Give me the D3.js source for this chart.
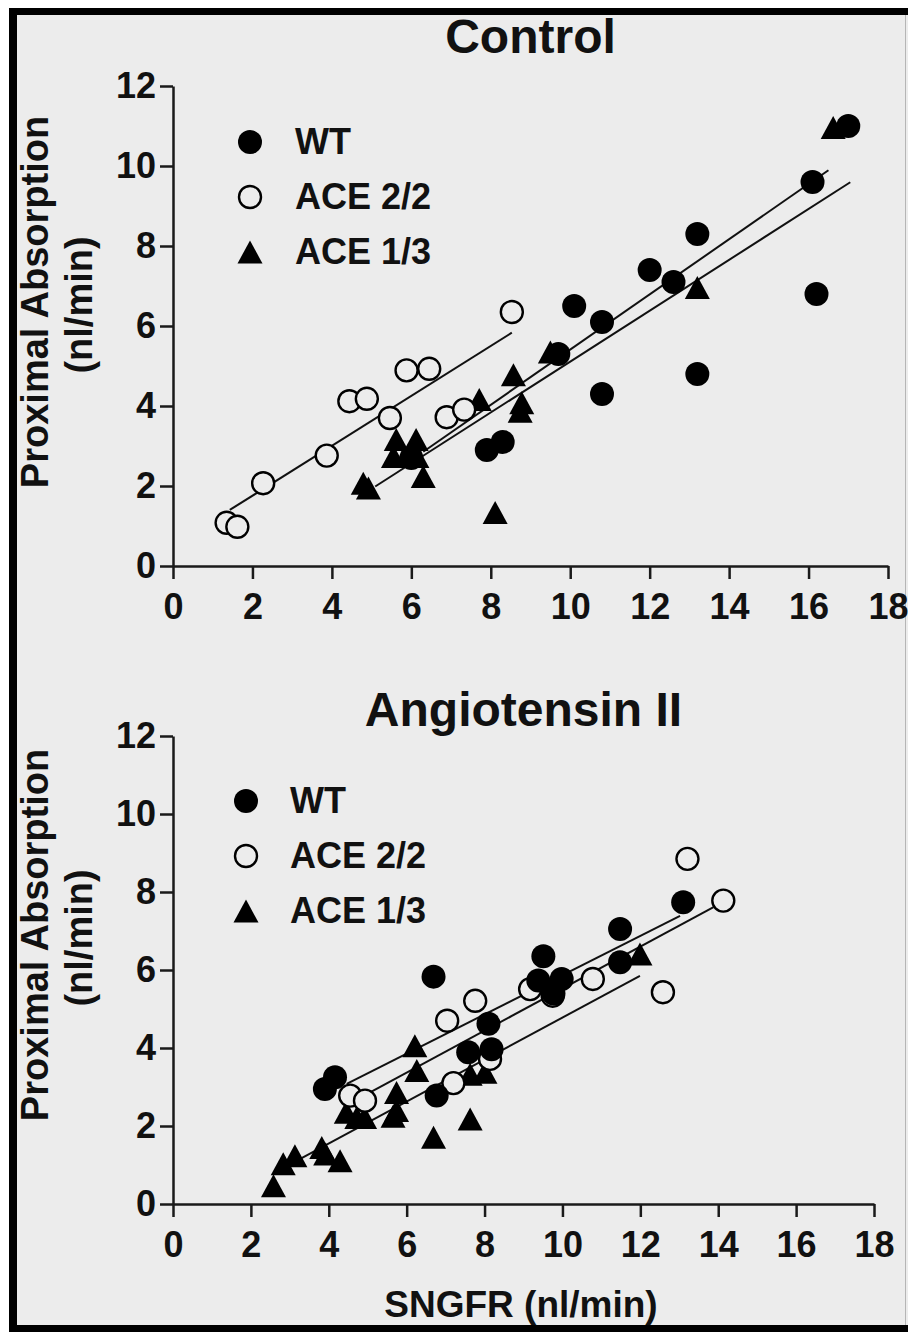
<!DOCTYPE html>
<html>
<head>
<meta charset="utf-8">
<script src="https://cdn.jsdelivr.net/npm/d3@7"></script>
<style>
  html, body { margin: 0; padding: 0; background: #fff; }
  svg text { font-family: "Liberation Sans", Arial, sans-serif; font-weight: bold; fill: #111; }
</style>
</head>
<body>
<svg id="chart" width="908" height="1332"></svg>
<script>
// ---- data ----
const seriesNames = ["WT", "ACE 2/2", "ACE 1/3"];
const xTicks = [0, 2, 4, 6, 8, 10, 12, 14, 16, 18];
const yTicks = [0, 2, 4, 6, 8, 10, 12];

// Control panel
const controlWT = [[6.0,2.7],[7.9,2.9],[8.3,3.1],[9.7,5.3],[10.1,6.5],[10.8,6.1],[10.8,4.3],[12.0,7.4],[12.6,7.1],[13.2,8.3],[13.2,4.8],[16.1,9.6],[16.2,6.8],[17.0,11.0]];
const controlAce22 = [[1.35,1.08],[1.62,0.98],[2.27,2.07],[3.87,2.76],[4.44,4.12],[4.88,4.18],[5.46,3.70],[5.88,4.89],[6.45,4.93],[6.89,3.72],[7.33,3.91],[8.53,6.35]];
const controlAce13 = [[4.79,2.07],[4.92,1.95],[5.62,3.16],[5.55,2.74],[6.12,3.16],[6.14,2.74],[6.30,2.24],[7.71,4.16],[8.57,4.78],[8.78,4.08],[8.74,3.87],[8.11,1.34],[9.50,5.35],[13.2,6.96],[16.62,10.96]];
// regression lines: [slope, intercept, xFrom, xTo]
const controlFits = [[0.624, 0.51, 1.43, 8.53], [0.69, -1.49, 6.3, 16.5], [0.636, -1.25, 5.09, 17.05]];

// Angiotensin II panel
const angWT = [[3.90,2.95],[4.16,3.25],[6.69,5.83],[6.77,2.78],[7.58,3.89],[8.10,4.62],[8.18,3.97],[9.38,5.73],[9.51,6.35],[9.77,5.40],[9.98,5.77],[11.48,7.05],[11.48,6.20],[13.10,7.74]];
const angAce22 = [[4.55,2.78],[4.93,2.65],[7.04,4.70],[7.20,3.10],[7.76,5.21],[8.14,3.72],[9.17,5.51],[9.75,5.34],[10.78,5.77],[12.58,5.43],[13.21,8.85],[14.13,7.78]];
const angAce13 = [[2.58,0.47],[2.83,1.03],[3.13,1.24],[3.82,1.45],[3.92,1.28],[4.29,1.11],[4.45,2.35],[4.72,2.22],[4.92,2.22],[5.65,2.25],[5.74,2.40],[5.74,2.86],[6.21,4.06],[6.26,3.42],[6.69,1.71],[7.63,2.18],[7.63,3.33],[8.01,3.38],[11.99,6.41]];
const angFits = [[0.503, 0.837, 4.46, 13.02], [0.539, 0.133, 5.06, 13.88], [0.538, -0.60, 3.1, 11.99]];

// ---- layout ----
const W = 908, H = 1332;
const BG = "#ececec";
const panels = [
  { title: "Control", x0: 173, x1: 888, y0: 566, y1: 86, titleY: 53,
    legX: 250, legTextX: 295, legY: [142, 197, 252], yLabelMid: 302,
    wt: controlWT, ace22: controlAce22, ace13: controlAce13, fits: controlFits },
  { title: "Angiotensin II", x0: 173, x1: 874, y0: 1204, y1: 736, titleY: 726,
    legX: 246, legTextX: 290, legY: [801, 856, 911], yLabelMid: 935,
    wt: angWT, ace22: angAce22, ace13: angAce13, fits: angFits }
];

const svg = d3.select("#chart");

// frame + background
svg.append("rect").attr("width", W).attr("height", H).attr("fill", "#fff");
svg.append("rect").attr("x", 9).attr("y", 8).attr("width", W - 9).attr("height", H - 8).attr("fill", BG);
svg.append("rect").attr("x", 9).attr("y", 8).attr("width", 8).attr("height", H - 8).attr("fill", "#000");
svg.append("rect").attr("x", 9).attr("y", 8).attr("width", W - 9).attr("height", 7).attr("fill", "#000");
svg.append("rect").attr("x", 9).attr("y", 1325).attr("width", W - 9).attr("height", 7).attr("fill", "#000");
svg.append("line").attr("x1", 905.5).attr("x2", 905.5).attr("y1", 15).attr("y2", 1325)
  .attr("stroke", "#b5b5b5").attr("stroke-width", 1);

const triPath = "M0,-11.5L12.5,11.5L-12.5,11.5Z";

function drawMarker(g, kind) {
  if (kind === 0) {
    g.append("circle").attr("r", 12).attr("fill", "#000");
  } else if (kind === 1) {
    g.append("circle").attr("r", 11).attr("fill", BG).attr("stroke", "#000").attr("stroke-width", 2.4);
  } else {
    g.append("path").attr("d", triPath).attr("fill", "#000");
  }
}

panels.forEach(function (p) {
  const x = d3.scaleLinear().domain([0, 18]).range([p.x0, p.x1]);
  const y = d3.scaleLinear().domain([0, 12]).range([p.y0, p.y1]);
  const g = svg.append("g");

  // title
  g.append("text")
    .attr("x", (p.x0 + p.x1) / 2).attr("y", p.titleY)
    .attr("text-anchor", "middle").style("font-size", "48px")
    .text(p.title);

  // axes
  const xAxis = d3.axisBottom(x).tickValues(xTicks).tickSize(13).tickSizeOuter(0).tickPadding(14);
  const yAxis = d3.axisLeft(y).tickValues(yTicks).tickSize(13).tickSizeOuter(0).tickPadding(4);

  g.append("g").attr("transform", "translate(0," + p.y0 + ")").call(xAxis)
    .call(a => a.selectAll("text").style("font-size", "36px").attr("fill", "#111"));
  g.append("g").attr("transform", "translate(" + p.x0 + ",0)").call(yAxis)
    .call(a => a.selectAll("text").style("font-size", "36px").attr("fill", "#111"));
  g.selectAll(".domain, .tick line").attr("stroke", "#1a1a1a").attr("stroke-width", 2.5);

  // y label
  g.append("text")
    .attr("transform", "translate(48," + p.yLabelMid + ") rotate(-90)")
    .attr("text-anchor", "middle").style("font-size", "38px")
    .text("Proximal Absorption");
  g.append("text")
    .attr("transform", "translate(92," + (p.yLabelMid + 3) + ") rotate(-90)")
    .attr("text-anchor", "middle").style("font-size", "38px")
    .text("(nl/min)");

  // fit lines
  g.selectAll("line.fit").data(p.fits).enter().append("line")
    .attr("class", "fit")
    .attr("x1", d => x(d[2])).attr("y1", d => y(d[0] * d[2] + d[1]))
    .attr("x2", d => x(d[3])).attr("y2", d => y(d[0] * d[3] + d[1]))
    .attr("stroke", "#111").attr("stroke-width", 2);

  // points: triangles, open circles, filled circles
  [[p.ace13, 2], [p.ace22, 1], [p.wt, 0]].forEach(function (s) {
    g.append("g").selectAll("g").data(s[0]).enter().append("g")
      .attr("transform", d => "translate(" + x(d[0]) + "," + y(d[1]) + ")")
      .each(function () { drawMarker(d3.select(this), s[1]); });
  });

  // legend
  seriesNames.forEach(function (name, i) {
    const lg = g.append("g").attr("transform", "translate(" + p.legX + "," + p.legY[i] + ")");
    drawMarker(lg, i);
    g.append("text").attr("x", p.legTextX).attr("y", p.legY[i] + 12)
      .style("font-size", "36px").text(name);
  });
});

// x label (bottom only)
svg.append("text")
  .attr("x", 521).attr("y", 1317)
  .attr("text-anchor", "middle").style("font-size", "37px")
  .text("SNGFR (nl/min)");
</script>
</body>
</html>
